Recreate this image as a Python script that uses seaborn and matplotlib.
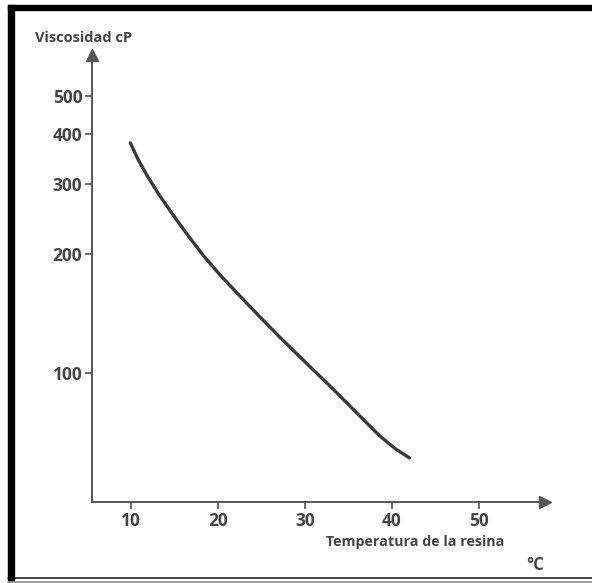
import pandas as pd
import numpy as np
import matplotlib.pyplot as plt
import matplotlib.patches as mpatches
from matplotlib.lines import Line2D
import seaborn as sns

# Datos (viscosidad de la resina vs temperatura)
temperatura = [9.9, 10.8, 11.8, 13.2, 14.8, 16.5, 18.3, 20.2, 22.2, 24.6,
               27.1, 29.0, 30.9, 32.8, 34.8, 36.7, 38.6, 40.4, 42.0]
viscosidad = [381, 346, 316, 282, 251, 223, 198, 177, 159, 140,
              123, 112, 102, 93, 84, 76.3, 69.3, 64.3, 61]
x_ticks = [10, 20, 30, 40, 50]
y_ticks = [100, 200, 300, 400, 500]

df = pd.DataFrame({'temp': temperatura, 'visc': viscosidad})

sns.set_style('white')
plt.rcParams['font.family'] = ['Open Sans', 'DejaVu Sans']

W, H = 592, 583
fig = plt.figure(figsize=(W / 100, H / 100), dpi=100)
ax = fig.add_axes([92 / W, (H - 502) / H, (545 - 92) / W, (502 - 55) / H])

gris = '#444444'
sns.lineplot(x='temp', y='visc', data=df, ax=ax, color='#3a3a3a', linewidth=2.4)

ax.set_yscale('log')
ax.set_xlim(5.5, 57.6)
ax.set_ylim(47.2, 635)
ax.set_xticks(x_ticks)
ax.set_xticklabels([str(t) for t in x_ticks])
ax.set_yticks(y_ticks)
ax.set_yticklabels([str(t) for t in y_ticks])
ax.yaxis.set_minor_locator(plt.NullLocator())
ax.set_xlabel('')
ax.set_ylabel('')

for s in ['top', 'right']:
    ax.spines[s].set_visible(False)
for s in ['left', 'bottom']:
    ax.spines[s].set_color('#555555')
    ax.spines[s].set_linewidth(1.4)

ax.tick_params(axis='both', direction='out', length=5, width=1.2, color='#555555',
               labelsize=12.5, labelcolor=gris, pad=2, bottom=True, left=True)
for lab in ax.get_xticklabels() + ax.get_yticklabels():
    lab.set_fontweight('bold')

# flechas de los ejes
ax.plot(0, 1, marker='^', markersize=8, color='#555555', transform=ax.transAxes, clip_on=False)
ax.plot(1, 0, marker='>', markersize=8, color='#555555', transform=ax.transAxes, clip_on=False)

fig.text(35 / W, 1 - 38 / H, 'Viscosidad cP', fontsize=10.5, fontweight='bold',
         color=gris, va='center', ha='left')
fig.text(415 / W, 1 - 542 / H, 'Temperatura de la resina', fontsize=10.3,
         fontweight='bold', color=gris, va='center', ha='center')
fig.text(535 / W, 1 - 565 / H, '°C', fontsize=12, fontweight='bold',
         color=gris, va='center', ha='center')

# marco escaneado
fig.patches.append(mpatches.Rectangle((8 / W, 1 - 10 / H), 1 - 8 / W, 5 / H,
                                      transform=fig.transFigure, color='black', zorder=5))
fig.patches.append(mpatches.Rectangle((8 / W, 1 - 580 / H), 6 / W, 575 / H,
                                      transform=fig.transFigure, color='black', zorder=5))
fig.add_artist(Line2D([8 / W, 1], [1 - 578 / H, 1 - 578 / H], color='#222222', linewidth=1.2))
fig.add_artist(Line2D([8 / W, 1], [1 - 581.5 / H, 1 - 581.5 / H], color='#888888', linewidth=1.2))

plt.savefig('out.png', dpi=100)
